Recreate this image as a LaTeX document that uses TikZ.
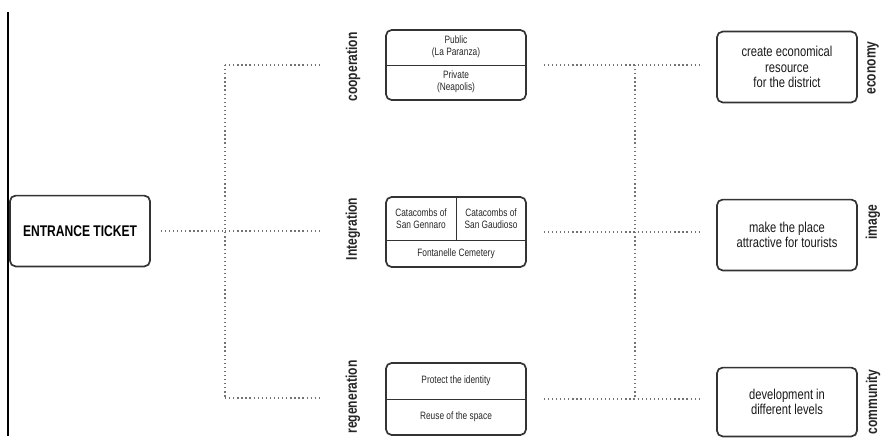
\documentclass[tikz,border=0pt]{standalone}
\usepackage{fontspec}
\setmainfont{Liberation Sans}[FakeStretch=0.78]
\usetikzlibrary{positioning}
\begin{document}
\begin{tikzpicture}[
    x=0.025cm, y=-0.025cm,
    box/.style={draw=black!80, line width=1.2pt, rounded corners=4pt, minimum width=3.5cm, minimum height=1.77cm, inner sep=0pt, align=center},
    sep/.style={draw=black!80, line width=0.7pt},
    dots/.style={draw=black!55, dotted, line width=0.9pt},
    small/.style={font=\fontsize{7.6}{8.6}\selectfont, align=center, text=black!85},
    goal/.style={font=\fontsize{10.2}{11}\selectfont, align=center, text=black!90},
    tag/.style={rotate=90, font=\fontsize{11}{12}\selectfont\bfseries, text=black!85, inner sep=1pt}
]
    \useasboundingbox (0,0) rectangle (883,441);
    \draw[line width=0.9pt] (8,12) -- (8,436);

    % start
    \node[box, font=\fontsize{11}{12}\selectfont\bfseries] (ticket) at (80,231) {ENTRANCE TICKET};

    % first branching
    \coordinate (j1) at (225,231);
    \coordinate (j1top) at (225,65);
    \coordinate (j1bot) at (225,398);
    \coordinate (e1) at (322,65);
    \coordinate (e2) at (322,231);
    \coordinate (e3) at (322,398);
    \draw[dots, shorten <=7pt] (ticket) -- (j1);
    \draw[dots] (j1top) -- (j1bot);
    \draw[dots] (j1top) -- (e1);
    \draw[dots] (j1) -- (e2);
    \draw[dots] (j1bot) -- (e3);

    \node[tag] (lcoop) at (353,67) {cooperation};
    \node[tag] (linteg) at (353,229) {Integration};
    \node[tag] (lregen) at (353,397) {regeneration};

    % cooperation
    \node[box, minimum height=1.75cm] (coop) at (456,65) {};
    \draw[sep] (coop.west) -- (coop.east);
    \node[small] (pub) at (456,47) {Public\\(La Paranza)};
    \node[small] (priv) at (456,82) {Private\\(Neapolis)};

    % integration
    \node[box, minimum height=1.75cm] (integ) at (456,232) {};
    \path (integ.north) ++(0,44) coordinate (imid);
    \draw[sep] (integ.west |- imid) -- (integ.east |- imid);
    \draw[sep] (integ.north) -- (imid);
    \node[small] (genn) at (421,219) {Catacombs of\\San Gennaro};
    \node[small] (gaud) at (491,219) {Catacombs of\\San Gaudioso};
    \node[small] (font) at (456,254) {Fontanelle Cemetery};

    % regeneration
    \node[box, minimum height=1.8cm] (regen) at (456,399) {};
    \draw[sep] (regen.west) -- (regen.east);
    \node[small] (ident) at (456,381) {Protect the identity};
    \node[small] (reuse) at (456,417) {Reuse of the space};

    % goals
    \node[box] (res) at (787,67) {};
    \node[goal] (restxt) at (res) {create economical\\resource\\for the district};
    \node[box] (attr) at (787,235) {};
    \node[goal] (attrtxt) at (attr) {make the place\\attractive for tourists};
    \node[box, minimum height=1.72cm] (dev) at (787,402) {};
    \node[goal] (devtxt) at (dev) {development in\\different levels};

    % second branching
    \coordinate (j2top) at (635,65);
    \coordinate (j2bot) at (635,398);
    \draw[dots, shorten <=12pt, shorten >=12pt] (coop.east) -- (coop.east -| res.west);
    \draw[dots, shorten <=12pt, shorten >=12pt] (integ.east) -- (integ.east -| attr.west);
    \draw[dots, shorten <=12pt, shorten >=12pt] (regen.east) -- (regen.east -| dev.west);
    \draw[dots] (j2top) -- (j2bot);

    \node[tag] (leco) at (873,68) {economy};
    \node[tag] (limg) at (873,222) {image};
    \node[tag] (lcom) at (873,402) {community};
\end{tikzpicture}
\end{document}
